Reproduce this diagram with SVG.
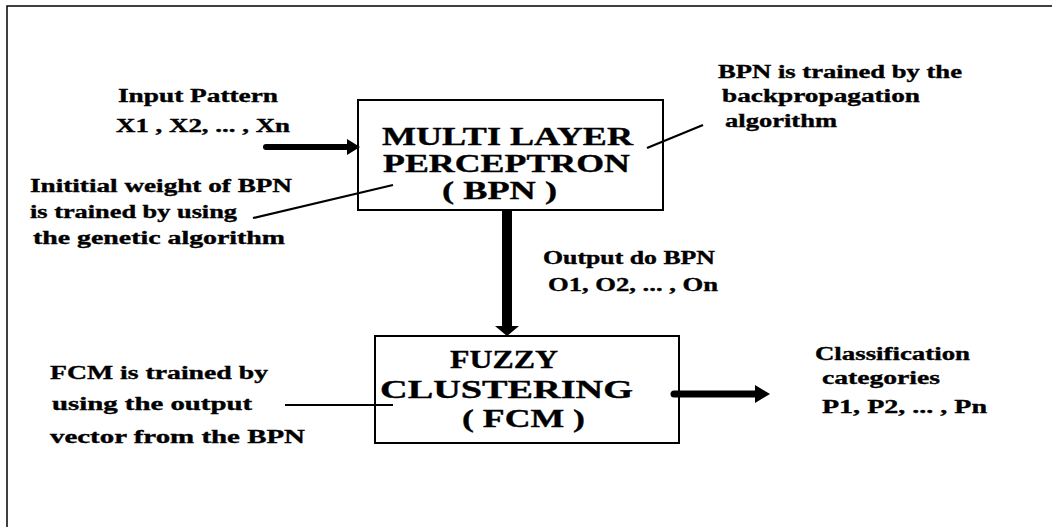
<svg xmlns="http://www.w3.org/2000/svg" width="1052" height="527" viewBox="0 0 1052 527">
<style>
  text { font-family: "Liberation Serif", "Times New Roman", serif; font-weight: bold; fill: #000; stroke: #000; stroke-width: 0.35; }
  .lbl { font-size: 18px; }
  .box-t { font-size: 26px; }
  .box { fill: #fff; stroke: #000; stroke-width: 2; }
  .thin { stroke: #000; stroke-width: 2.2; fill: none; }
  .frame { stroke: #000; stroke-width: 1.5; fill: none; }
  .head { fill: #000; }
</style>
<rect width="1052" height="527" fill="#fff"/>
<g id="frame">
  <path class="frame" d="M7,527 V6 H1052"/>
</g>
<g id="mlp">
  <rect class="box" x="358" y="100" width="305" height="110"/>
  <text class="box-t" x="382" y="145" textLength="251" lengthAdjust="spacingAndGlyphs">MULTI LAYER</text>
  <text class="box-t" x="383" y="172" textLength="247" lengthAdjust="spacingAndGlyphs">PERCEPTRON</text>
  <text class="box-t" x="442" y="199" textLength="115" lengthAdjust="spacingAndGlyphs">( BPN )</text>
</g>
<g id="fcm">
  <rect class="box" x="375" y="336" width="304" height="107"/>
  <text class="box-t" x="450" y="368" textLength="108" lengthAdjust="spacingAndGlyphs">FUZZY</text>
  <text class="box-t" x="380" y="398" textLength="253" lengthAdjust="spacingAndGlyphs">CLUSTERING</text>
  <text class="box-t" x="462" y="427" textLength="123" lengthAdjust="spacingAndGlyphs">( FCM )</text>
</g>
<g id="input-label">
  <text class="lbl" x="118" y="102" textLength="160" lengthAdjust="spacingAndGlyphs">Input Pattern</text>
  <text class="lbl" x="116" y="132" textLength="174" lengthAdjust="spacingAndGlyphs">X1 , X2, ... , Xn</text>
</g>
<g id="ga-label">
  <text class="lbl" x="30" y="192" textLength="262" lengthAdjust="spacingAndGlyphs">Inititial weight of BPN</text>
  <text class="lbl" x="30" y="218" textLength="207" lengthAdjust="spacingAndGlyphs">is trained by using</text>
  <text class="lbl" x="33" y="244" textLength="252" lengthAdjust="spacingAndGlyphs">the  genetic algorithm</text>
</g>
<g id="bp-label">
  <text class="lbl" x="718" y="78" textLength="244" lengthAdjust="spacingAndGlyphs">BPN is trained by the</text>
  <text class="lbl" x="722" y="102" textLength="198" lengthAdjust="spacingAndGlyphs">backpropagation</text>
  <text class="lbl" x="725" y="127" textLength="112" lengthAdjust="spacingAndGlyphs">algorithm</text>
</g>
<g id="output-label">
  <text class="lbl" x="543" y="264" textLength="172" lengthAdjust="spacingAndGlyphs">Output do BPN</text>
  <text class="lbl" x="548" y="291" textLength="170" lengthAdjust="spacingAndGlyphs">O1, O2, ... , On</text>
</g>
<g id="fcm-label">
  <text class="lbl" x="50" y="379" textLength="218" lengthAdjust="spacingAndGlyphs">FCM is trained by</text>
  <text class="lbl" x="52" y="410" textLength="200" lengthAdjust="spacingAndGlyphs">using the output</text>
  <text class="lbl" x="50" y="443" textLength="255" lengthAdjust="spacingAndGlyphs">vector from the BPN</text>
</g>
<g id="class-label">
  <text class="lbl" x="815" y="360" textLength="155" lengthAdjust="spacingAndGlyphs">Classification</text>
  <text class="lbl" x="822" y="384" textLength="118" lengthAdjust="spacingAndGlyphs">categories</text>
  <text class="lbl" x="822" y="413" textLength="165" lengthAdjust="spacingAndGlyphs">P1, P2, ... , Pn</text>
</g>
<g id="connectors">
  <line x1="266" y1="147" x2="349" y2="147" stroke="#000" stroke-width="6" stroke-linecap="round"/>
  <polygon class="head" points="347,139 360,147 347,155"/>
  <line x1="507" y1="210" x2="507" y2="327" stroke="#000" stroke-width="10"/>
  <polygon class="head" points="495,326 519,326 507,336"/>
  <line x1="674" y1="394" x2="757" y2="394" stroke="#000" stroke-width="7" stroke-linecap="round"/>
  <polygon class="head" points="755,385 770,394 755,403"/>
  <line class="thin" x1="253" y1="218" x2="393" y2="185"/>
  <line class="thin" x1="647" y1="148" x2="703" y2="125"/>
  <line class="thin" x1="285" y1="405" x2="393" y2="405"/>
</g>
</svg>
